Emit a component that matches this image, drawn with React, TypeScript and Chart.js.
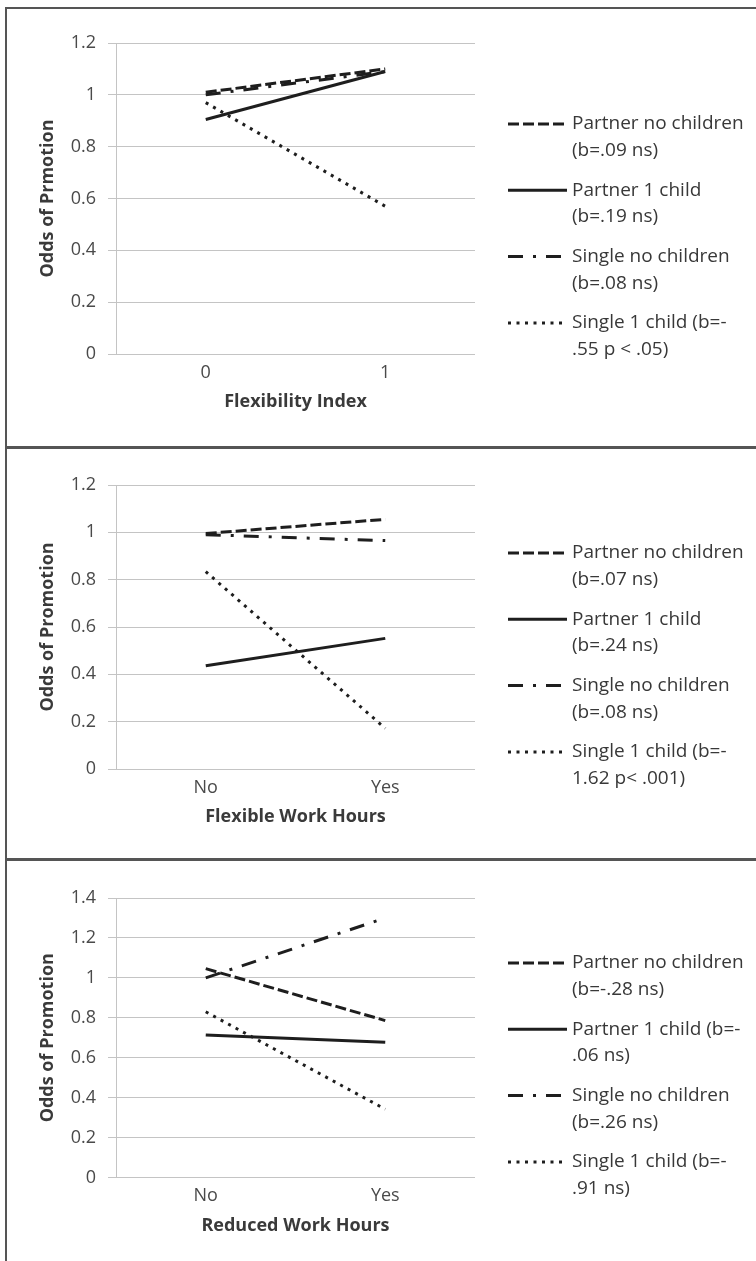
import React, { useEffect, useRef } from "react";
import { Chart, registerables } from "chart.js";

Chart.register(...registerables);

// ---------- data ----------
const SERIES_NAMES = ["Partner no children", "Partner 1 child", "Single no children", "Single 1 child"];

// Panel 1: Flexibility Index
const flexIndexCategories = ["0", "1"];
const flexIndexPartnerNoChildren = [1.01, 1.1];
const flexIndexPartnerOneChild = [0.905, 1.09];
const flexIndexSingleNoChildren = [1.0, 1.09];
const flexIndexSingleOneChild = [0.97, 0.57];
const flexIndexLegend = [
  ["Partner no children", "(b=.09 ns)"],
  ["Partner 1 child", "(b=.19 ns)"],
  ["Single no children", "(b=.08 ns)"],
  ["Single 1 child (b=-", ".55 p < .05)"],
];
const flexIndexYMax = 1.2;
const flexIndexXTitle = "Flexibility Index";
const flexIndexYTitle = "Odds of Prmotion";

// Panel 2: Flexible Work Hours
const flexHoursCategories = ["No", "Yes"];
const flexHoursPartnerNoChildren = [0.995, 1.055];
const flexHoursPartnerOneChild = [0.436, 0.552];
const flexHoursSingleNoChildren = [0.99, 0.965];
const flexHoursSingleOneChild = [0.834, 0.172];
const flexHoursLegend = [
  ["Partner no children", "(b=.07 ns)"],
  ["Partner 1 child", "(b=.24 ns)"],
  ["Single no children", "(b=.08 ns)"],
  ["Single 1 child (b=-", "1.62 p< .001)"],
];
const flexHoursYMax = 1.2;
const flexHoursXTitle = "Flexible Work Hours";
const flexHoursYTitle = "Odds of Promotion";

// Panel 3: Reduced Work Hours
const reducedCategories = ["No", "Yes"];
const reducedPartnerNoChildren = [1.046, 0.786];
const reducedPartnerOneChild = [0.714, 0.677];
const reducedSingleNoChildren = [1.0, 1.3];
const reducedSingleOneChild = [0.83, 0.342];
const reducedLegend = [
  ["Partner no children", "(b=-.28 ns)"],
  ["Partner 1 child (b=-", ".06 ns)"],
  ["Single no children", "(b=.26 ns)"],
  ["Single 1 child (b=-", ".91 ns)"],
];
const reducedYMax = 1.4;
const reducedXTitle = "Reduced Work Hours";
const reducedYTitle = "Odds of Promotion";

// ---------- styles ----------
const FONT = '"Open Sans", "Noto Sans", sans-serif';
const LINE_COLOR = "#1e1e1e";
const LINE_STYLES = [
  { dash: [11, 4], width: 3 },
  { dash: [] as number[], width: 3 },
  { dash: [15, 10, 3, 10], width: 3 },
  { dash: [3, 5.5], width: 3 },
];

const sideLegend = {
  id: "sideLegend",
  afterDraw(chart: any, _args: any, opts: any) {
    const { ctx } = chart;
    const entries: string[][] = opts.entries || [];
    ctx.save();
    ctx.font = `19px ${FONT}`;
    ctx.fillStyle = "#383838";
    ctx.textBaseline = "middle";
    ctx.textAlign = "left";
    entries.forEach((lines, i) => {
      const y = opts.top + i * opts.entryGap;
      const ds = chart.data.datasets[i];
      ctx.save();
      ctx.strokeStyle = ds.borderColor;
      ctx.lineWidth = ds.borderWidth;
      ctx.setLineDash(ds.borderDash || []);
      ctx.beginPath();
      ctx.moveTo(opts.lineX0, y);
      ctx.lineTo(opts.lineX1, y);
      ctx.stroke();
      ctx.restore();
      lines.forEach((t, j) => {
        ctx.fillText(t, opts.textX, y + j * opts.lineGap);
      });
    });
    ctx.restore();
  },
};

type PanelProps = {
  top: number;
  height: number;
  padTop: number;
  padBottom: number;
  legendTop: number;
  categories: string[];
  series: number[][];
  legend: string[][];
  yMax: number;
  xTitle: string;
  yTitle: string;
};

function Panel(p: PanelProps) {
  const ref = useRef<HTMLCanvasElement | null>(null);
  useEffect(() => {
    if (!ref.current) return;
    const chart = new Chart(ref.current, {
      type: "line",
      data: {
        labels: p.categories,
        datasets: p.series.map((vals, i) => ({
          label: SERIES_NAMES[i],
          data: vals,
          borderColor: LINE_COLOR,
          backgroundColor: LINE_COLOR,
          borderWidth: LINE_STYLES[i].width,
          borderDash: LINE_STYLES[i].dash,
          borderCapStyle: "butt",
          pointRadius: 0,
          tension: 0,
          fill: false,
        })),
      },
      options: {
        responsive: false,
        animation: false,
        layout: { padding: { left: 37, right: 281, top: p.padTop, bottom: p.padBottom } },
        plugins: {
          legend: { display: false },
          tooltip: { enabled: false },
          sideLegend: {
            entries: p.legend,
            top: p.legendTop,
            entryGap: 66.3,
            lineGap: 26.5,
            lineX0: 508,
            lineX1: 567,
            textX: 572,
          },
        } as any,
        scales: {
          x: {
            type: "category",
            offset: true,
            grid: { display: false, drawTicks: false },
            border: { display: false },
            ticks: { color: "#4a4a4a", font: { family: FONT, size: 18 }, padding: 8 },
            title: {
              display: true,
              text: p.xTitle,
              color: "#3a3a3a",
              font: { family: FONT, size: 18, weight: "bold" },
              padding: { top: 0, bottom: 0 },
            },
            afterFit: (s: any) => {
              s.height = 59;
            },
          },
          y: {
            min: 0,
            max: p.yMax,
            ticks: {
              stepSize: 0.2,
              color: "#4a4a4a",
              font: { family: FONT, size: 18 },
              padding: 12,
              callback: (v: any) => String(Math.round(Number(v) * 10) / 10),
            },
            grid: { color: "#c4c4c4", lineWidth: 1, drawTicks: true, tickLength: 8 },
            border: { display: true, color: "#c4c4c4", width: 1 },
            title: {
              display: true,
              text: p.yTitle,
              color: "#3a3a3a",
              font: { family: FONT, size: 18, weight: "bold" },
              padding: { top: 0, bottom: 0 },
            },
            afterFit: (s: any) => {
              s.width = 79;
            },
          },
        },
      },
      plugins: [sideLegend],
    } as any);
    return () => chart.destroy();
  }, []);
  return (
    <canvas
      ref={ref}
      width={756}
      height={p.height}
      style={{ position: "absolute", left: 0, top: p.top, display: "block" }}
    />
  );
}

const BORDER = "#555555";

export default function App() {
  return (
    <div style={{ position: "absolute", left: 0, top: 0, width: 756, height: 1261, background: "#fff", overflow: "hidden" }}>
      <Panel
        top={0}
        height={448}
        padTop={43}
        padBottom={35}
        legendTop={124}
        categories={flexIndexCategories}
        series={[flexIndexPartnerNoChildren, flexIndexPartnerOneChild, flexIndexSingleNoChildren, flexIndexSingleOneChild]}
        legend={flexIndexLegend}
        yMax={flexIndexYMax}
        xTitle={flexIndexXTitle}
        yTitle={flexIndexYTitle}
      />
      <Panel
        top={448}
        height={412}
        padTop={37}
        padBottom={32}
        legendTop={105}
        categories={flexHoursCategories}
        series={[flexHoursPartnerNoChildren, flexHoursPartnerOneChild, flexHoursSingleNoChildren, flexHoursSingleOneChild]}
        legend={flexHoursLegend}
        yMax={flexHoursYMax}
        xTitle={flexHoursXTitle}
        yTitle={flexHoursYTitle}
      />
      <Panel
        top={860}
        height={401}
        padTop={38}
        padBottom={24.5}
        legendTop={103}
        categories={reducedCategories}
        series={[reducedPartnerNoChildren, reducedPartnerOneChild, reducedSingleNoChildren, reducedSingleOneChild]}
        legend={reducedLegend}
        yMax={reducedYMax}
        xTitle={reducedXTitle}
        yTitle={reducedYTitle}
      />
      <div style={{ position: "absolute", left: 5, top: 7, width: 751, height: 2, background: BORDER }} />
      <div style={{ position: "absolute", left: 5, top: 446, width: 751, height: 3, background: BORDER }} />
      <div style={{ position: "absolute", left: 5, top: 858, width: 751, height: 3, background: BORDER }} />
      <div style={{ position: "absolute", left: 5, top: 7, width: 2, height: 1254, background: BORDER }} />
    </div>
  );
}
